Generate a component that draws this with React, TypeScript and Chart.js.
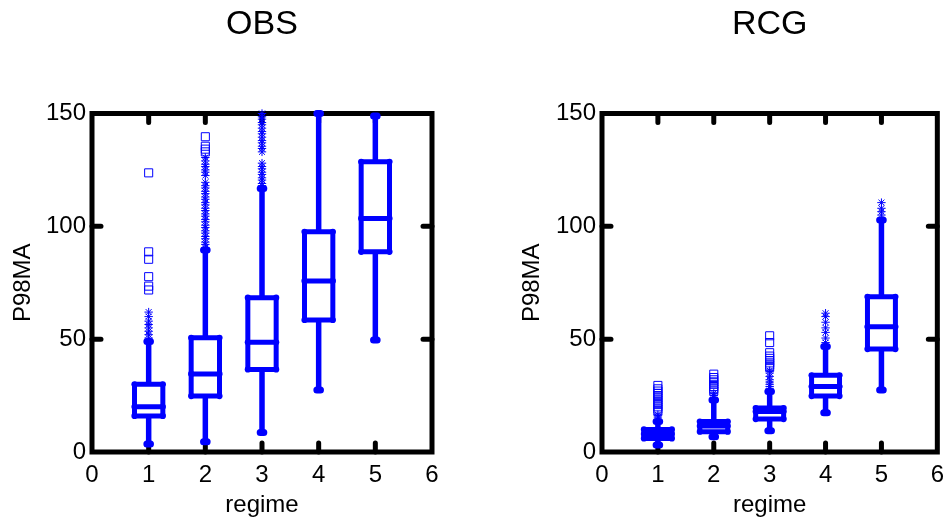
import React, { useEffect, useRef } from "react";
import { Chart, registerables } from "chart.js";

Chart.register(...registerables);

const FONT = "'Liberation Sans', Arial, Helvetica, sans-serif";
const BLUE = "#0000ff";

const regimes = [1, 2, 3, 4, 5];
const xTickValues = [0, 1, 2, 3, 4, 5, 6];
const yTickValues = [0, 50, 100, 150];

// OBS: five-number summaries per regime
const obsLowerWhisker = [3.5, 4.5, 8.6, 27.5, 49.6];
const obsQ1 = [16, 24.8, 36.6, 58.5, 88.7];
const obsMedian = [20, 34.6, 48.6, 75.8, 103.5];
const obsQ3 = [30, 50.6, 68.4, 97.6, 128.6];
const obsUpperWhisker = [49, 89.5, 116.8, 150, 148.9];

// OBS outliers per regime
const obsStarOutliers: number[][] = [
  [50.5, 52, 53.5, 55, 56.5, 58, 60, 62],
  [90.5, 92, 93, 94.5, 95.5, 97, 98, 99.5, 100.5, 102, 103, 104.5, 105.5, 107, 108, 109.5, 110.5, 112, 113, 114.5, 115.5, 117, 118, 119.5, 122.5, 124, 125, 126.5, 127.5, 129, 130.5],
  [118, 119, 120.5, 121.5, 123, 124, 125.5, 126.5, 128, 133, 134.5, 135.5, 137, 138, 139.5, 141, 142, 143.5, 145, 146, 147.5, 148.5, 150],
  [],
  [],
];
const obsSquareOutliers: number[][] = [
  [71.8, 73.5, 77.7, 85.4, 88.7, 123.7],
  [133, 134.2, 135.5, 139.7],
  [],
  [],
  [],
];

// RCG: five-number summaries per regime
const rcgLowerWhisker = [3.1, 6.8, 9.4, 17.4, 27.5];
const rcgQ1 = [6, 9, 14.6, 24.8, 45.6];
const rcgMedian = [8, 11.5, 17.9, 29, 55.5];
const rcgQ3 = [10, 13.5, 19.5, 34, 68.8];
const rcgUpperWhisker = [13.5, 23, 26.8, 46.7, 102.8];

// RCG outliers per regime
const rcgStarOutliers: number[][] = [
  [14.5, 15.5, 16.5],
  [24, 25, 26],
  [28, 29, 30, 31, 32, 33.5, 35, 36],
  [48.5, 50.5, 53, 55, 57.5, 60, 61.5],
  [105, 106.5, 108, 110.5],
];
const rcgSquareOutliers: number[][] = [
  [18, 19, 20, 21, 22, 23, 24, 25, 26, 27, 28, 29.5],
  [27, 28, 29, 30, 31, 32, 33, 34.5],
  [37.5, 38.5, 39.5, 40.5, 41.5, 42.5, 44, 48.5, 51.5],
  [],
  [],
];

type Stats = {
  low: number[];
  q1: number[];
  med: number[];
  q3: number[];
  high: number[];
};

const BOX_HALF_WIDTH = 0.25;

// Draws the axes frame with inward ticks, then the box-and-whisker glyphs.
function makeBoxPlugin(stats: Stats) {
  return {
    id: "boxFrame",
    beforeDatasetsDraw(chart: any) {
      const { ctx, chartArea: a, scales } = chart;
      const xs = scales.x;
      const ys = scales.y;
      ctx.save();

      // frame
      ctx.strokeStyle = "#000";
      ctx.lineWidth = 5;
      ctx.lineJoin = "miter";
      ctx.strokeRect(a.left, a.top, a.right - a.left, a.bottom - a.top);

      // inward ticks on all four sides
      ctx.lineCap = "round";
      ctx.beginPath();
      xTickValues.forEach((v) => {
        if (v === xs.min || v === xs.max) return;
        const px = xs.getPixelForValue(v);
        ctx.moveTo(px, a.bottom);
        ctx.lineTo(px, a.bottom - 9);
        ctx.moveTo(px, a.top);
        ctx.lineTo(px, a.top + 9);
      });
      yTickValues.forEach((v) => {
        if (v === ys.min || v === ys.max) return;
        const py = ys.getPixelForValue(v);
        ctx.moveTo(a.left, py);
        ctx.lineTo(a.left + 9, py);
        ctx.moveTo(a.right, py);
        ctx.lineTo(a.right - 9, py);
      });
      ctx.stroke();

      // boxes
      ctx.strokeStyle = BLUE;
      ctx.fillStyle = BLUE;
      regimes.forEach((r, i) => {
        const cx = xs.getPixelForValue(r);
        const xl = xs.getPixelForValue(r - BOX_HALF_WIDTH);
        const xr = xs.getPixelForValue(r + BOX_HALF_WIDTH);
        const yLow = ys.getPixelForValue(stats.low[i]);
        const yQ1 = ys.getPixelForValue(stats.q1[i]);
        const yMed = ys.getPixelForValue(stats.med[i]);
        const yQ3 = ys.getPixelForValue(stats.q3[i]);
        const yHigh = ys.getPixelForValue(stats.high[i]);

        // whiskers
        ctx.lineWidth = 5.5;
        ctx.lineCap = "butt";
        ctx.beginPath();
        ctx.moveTo(cx, yLow);
        ctx.lineTo(cx, yQ1);
        ctx.moveTo(cx, yQ3);
        ctx.lineTo(cx, yHigh);
        ctx.stroke();

        // whisker end caps
        ctx.lineWidth = 7;
        ctx.lineCap = "round";
        ctx.beginPath();
        ctx.moveTo(cx - 1.8, yLow);
        ctx.lineTo(cx + 1.8, yLow);
        ctx.moveTo(cx - 1.8, yHigh);
        ctx.lineTo(cx + 1.8, yHigh);
        ctx.stroke();

        // box and median
        ctx.lineWidth = 5;
        ctx.lineJoin = "round";
        ctx.beginPath();
        ctx.rect(xl, yQ3, xr - xl, yQ1 - yQ3);
        ctx.moveTo(xl, yMed);
        ctx.lineTo(xr, yMed);
        ctx.stroke();

        // rounded corner markers
        [
          [xl, yQ1],
          [xr, yQ1],
          [xl, yQ3],
          [xr, yQ3],
          [xl, yMed],
          [xr, yMed],
        ].forEach(([px, py]) => {
          ctx.beginPath();
          ctx.arc(px, py, 3.1, 0, Math.PI * 2);
          ctx.fill();
        });
      });

      ctx.restore();
    },
  };
}

function toPoints(outliers: number[][]) {
  const pts: { x: number; y: number }[] = [];
  outliers.forEach((vals, i) => {
    vals.forEach((v) => pts.push({ x: regimes[i], y: v }));
  });
  return pts;
}

type PanelProps = {
  title: string;
  stats: Stats;
  stars: number[][];
  squares: number[][];
  left: number;
  width: number;
  yAxisWidth: number;
  yTitleOffset: number;
  rightPad: number;
};

function Panel(props: PanelProps) {
  const ref = useRef<HTMLCanvasElement | null>(null);

  useEffect(() => {
    if (!ref.current) return;
    const tickFont = { family: FONT, size: 24 };
    const chart = new Chart(ref.current, {
      type: "scatter",
      data: {
        datasets: [
          {
            data: toPoints(props.squares),
            pointStyle: "rect",
            radius: 5.7,
            borderColor: BLUE,
            backgroundColor: "rgba(0,0,0,0)",
            borderWidth: 1,
            clip: false,
          } as any,
          {
            data: toPoints(props.stars),
            pointStyle: "star",
            radius: 4.2,
            borderColor: BLUE,
            backgroundColor: "rgba(0,0,0,0)",
            borderWidth: 1,
            clip: false,
          } as any,
        ],
      },
      options: {
        responsive: false,
        animation: false,
        events: [],
        layout: { padding: { left: 0, right: props.rightPad, top: 0, bottom: 0 } },
        plugins: {
          legend: { display: false },
          tooltip: { enabled: false },
          title: {
            display: true,
            text: props.title,
            fullSize: false,
            color: "#000",
            font: { family: FONT, size: 34, weight: "normal" },
            padding: { top: 4.5, bottom: 68.2 },
          },
        },
        scales: {
          x: {
            type: "linear",
            min: 0,
            max: 6,
            afterBuildTicks: (s: any) => {
              s.ticks = xTickValues.map((v) => ({ value: v }));
            },
            afterFit: (s: any) => {
              s.height = 69;
            },
            grid: { display: false, drawTicks: false },
            border: { display: false },
            ticks: { color: "#000", font: tickFont, padding: 9, maxRotation: 0, autoSkip: false },
            title: {
              display: true,
              text: "regime",
              color: "#000",
              font: tickFont,
              padding: { top: 0, bottom: 1 },
            },
          },
          y: {
            type: "linear",
            min: 0,
            max: 150,
            afterBuildTicks: (s: any) => {
              s.ticks = yTickValues.map((v) => ({ value: v }));
            },
            afterFit: (s: any) => {
              s.width = props.yAxisWidth;
            },
            grid: { display: false, drawTicks: false },
            border: { display: false },
            ticks: { color: "#000", font: tickFont, padding: 6, autoSkip: false },
            title: {
              display: true,
              text: "P98MA",
              color: "#000",
              font: tickFont,
              padding: { top: props.yTitleOffset, bottom: 0 },
            },
          },
        },
      } as any,
      plugins: [makeBoxPlugin(props.stats)],
    });
    return () => chart.destroy();
  }, []);

  return (
    <canvas
      ref={ref}
      width={props.width}
      height={521}
      style={{ position: "absolute", left: props.left, top: 0, display: "block" }}
    />
  );
}

export default function App() {
  return (
    <div
      style={{
        position: "fixed",
        left: 0,
        top: 0,
        width: 946,
        height: 521,
        overflow: "hidden",
        background: "#fff",
      }}
    >
      <Panel
        title="OBS"
        stats={{ low: obsLowerWhisker, q1: obsQ1, med: obsMedian, q3: obsQ3, high: obsUpperWhisker }}
        stars={obsStarOutliers}
        squares={obsSquareOutliers}
        left={0}
        width={473}
        yAxisWidth={92}
        yTitleOffset={8.6}
        rightPad={41}
      />
      <Panel
        title="RCG"
        stats={{ low: rcgLowerWhisker, q1: rcgQ1, med: rcgMedian, q3: rcgQ3, high: rcgUpperWhisker }}
        stars={rcgStarOutliers}
        squares={rcgSquareOutliers}
        left={473}
        width={480}
        yAxisWidth={129}
        yTitleOffset={44.6}
        rightPad={13}
      />
    </div>
  );
}
